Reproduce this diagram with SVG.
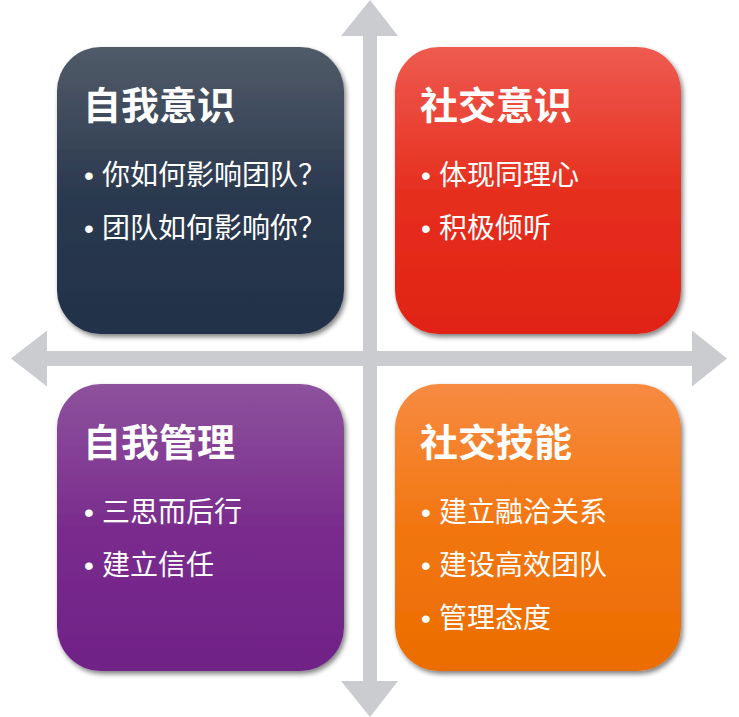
<svg xmlns="http://www.w3.org/2000/svg" width="739" height="717" viewBox="0 0 739 717">
<style>
.arrow{fill:#cbcccf}
.title{font-family:"Noto Sans CJK SC","Noto Sans",sans-serif;font-weight:bold;font-size:38px;fill:#fff}
.item{font-family:"Noto Sans CJK SC","Noto Sans",sans-serif;font-size:28px;fill:#fff}
.dot{font-family:"Liberation Sans",sans-serif;font-size:28px;fill:#fff}
.box{filter:url(#sh)}
</style>
<defs>
<filter id="sh" x="-10%" y="-10%" width="125%" height="125%">
<feGaussianBlur in="SourceAlpha" stdDeviation="2.5"/>
<feOffset dx="2" dy="3" result="b"/>
<feComponentTransfer><feFuncA type="linear" slope="0.5"/></feComponentTransfer>
<feMerge><feMergeNode/><feMergeNode in="SourceGraphic"/></feMerge>
</filter>
<linearGradient id="gTL" x1="0" y1="0" x2="0" y2="1"><stop offset="0" stop-color="#515b68"/><stop offset="0.5" stop-color="#2c3a50"/><stop offset="1" stop-color="#213148"/></linearGradient>
<linearGradient id="gTR" x1="0" y1="0" x2="0" y2="1"><stop offset="0" stop-color="#ee5b50"/><stop offset="0.5" stop-color="#e62f1f"/><stop offset="1" stop-color="#e12312"/></linearGradient>
<linearGradient id="gBL" x1="0" y1="0" x2="0" y2="1"><stop offset="0" stop-color="#8d529d"/><stop offset="0.5" stop-color="#7a2c8d"/><stop offset="1" stop-color="#6f2286"/></linearGradient>
<linearGradient id="gBR" x1="0" y1="0" x2="0" y2="1"><stop offset="0" stop-color="#f78b42"/><stop offset="0.5" stop-color="#f27610"/><stop offset="1" stop-color="#eb6c00"/></linearGradient>
</defs>
<rect width="739" height="717" fill="#fff"/>
<g id="connectors">
<polygon class="arrow" points="370,0 398,36 377,36 377,681 398,681 370,717 341,681 363,681 363,36 341,36"/>
<polygon class="arrow" points="11,358.5 47,330.5 47,351 692,351 692,330.5 727,358.5 692,386.5 692,366 47,366 47,386.5"/>
</g>
<g id="self-awareness">
<rect class="box" x="57" y="47" width="287" height="287" rx="44" fill="url(#gTL)"/>
<text class="title" x="83" y="119">自我意识</text>
<text class="item" x="84" y="185"><tspan class="dot">•</tspan><tspan x="102">你如何影响团队？</tspan></text>
<text class="item" x="84" y="238"><tspan class="dot">•</tspan><tspan x="102">团队如何影响你？</tspan></text>
</g>
<g id="social-awareness">
<rect class="box" x="395" y="47" width="286" height="287" rx="44" fill="url(#gTR)"/>
<text class="title" x="420" y="119">社交意识</text>
<text class="item" x="421" y="185"><tspan class="dot">•</tspan><tspan x="439">体现同理心</tspan></text>
<text class="item" x="421" y="238"><tspan class="dot">•</tspan><tspan x="439">积极倾听</tspan></text>
</g>
<g id="self-management">
<rect class="box" x="57" y="384" width="287" height="287" rx="44" fill="url(#gBL)"/>
<text class="title" x="83" y="456">自我管理</text>
<text class="item" x="84" y="522"><tspan class="dot">•</tspan><tspan x="102">三思而后行</tspan></text>
<text class="item" x="84" y="575"><tspan class="dot">•</tspan><tspan x="102">建立信任</tspan></text>
</g>
<g id="social-skills">
<rect class="box" x="395" y="384" width="286" height="287" rx="44" fill="url(#gBR)"/>
<text class="title" x="420" y="456">社交技能</text>
<text class="item" x="421" y="522"><tspan class="dot">•</tspan><tspan x="439">建立融洽关系</tspan></text>
<text class="item" x="421" y="575"><tspan class="dot">•</tspan><tspan x="439">建设高效团队</tspan></text>
<text class="item" x="421" y="628"><tspan class="dot">•</tspan><tspan x="439">管理态度</tspan></text>
</g>
</svg>
